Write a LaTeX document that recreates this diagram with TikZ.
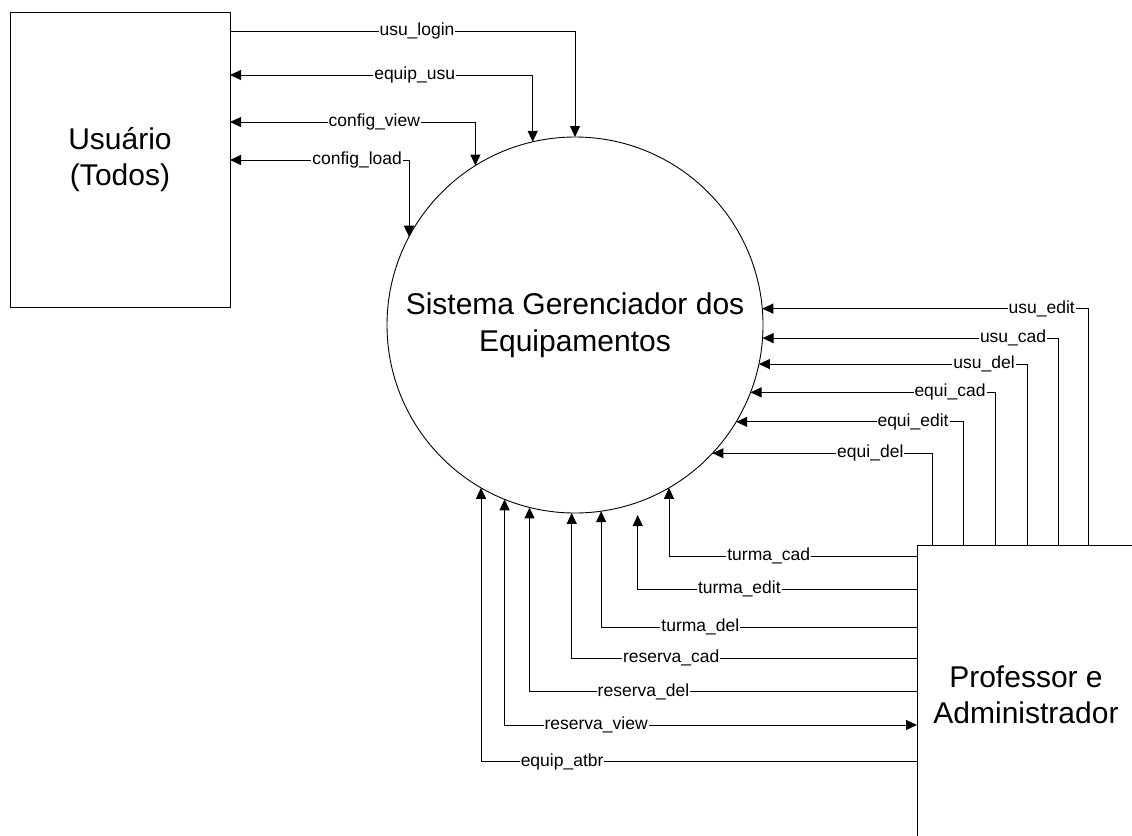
\documentclass[tikz,border=0pt]{standalone}
\usepackage{fontspec}
\setmainfont{Liberation Sans}
\usetikzlibrary{arrows.meta,calc}
\begin{document}
\begin{tikzpicture}[x=1pt,y=-1pt,
  box/.style={draw, line width=1pt, rectangle, inner sep=0pt, outer sep=0pt, align=center, font=\fontsize{30}{36}\selectfont},
  proc/.style={draw, line width=0.9pt, circle, minimum size=376pt, inner sep=0pt, outer sep=0pt, align=center, font=\fontsize{30}{37}\selectfont},
  flow/.style={line width=1pt, -{Triangle[length=11pt,width=10pt]}},
  flow2/.style={line width=1pt, {Triangle[length=11pt,width=10pt]}-{Triangle[length=11pt,width=10pt]}},
  lab/.style={fill=white, inner xsep=1pt, inner ysep=0pt, font=\fontsize{17.5}{20}\selectfont}
]
\useasboundingbox (0,0) rectangle (1132,835);
\clip (0,0) rectangle (1132,835);

\node[box, minimum width=220pt, minimum height=295pt] (u) at (120,159.5) {Usuário\\(Todos)};
\node[proc] (c) at (575,325) {Sistema Gerenciador dos\\Equipamentos};
\node[box, minimum width=218pt, minimum height=300pt] (p) at (1026,695) {Professor e\\Administrador};

% Usuario <-> sistema
\draw[flow] ($(u.north east)+(0,19)$) -| node[lab,pos=0.271]{usu\_login} (c.90);
\draw[flow2] ($(u.north east)+(0,63)$) -| node[lab,pos=0.305]{equip\_usu} (c.103.2);
\draw[flow2] ($(u.north east)+(0,110)$) -| node[lab,pos=0.294]{config\_view} (c.122.1);
\draw[flow2] ($(u.north east)+(0,148)$) -| node[lab,pos=0.355]{config\_load} (c.152.0);

% Professor -> sistema (right side)
\draw[flow] ($(p.north west)+(171,0)$) |- node[lab,pos=0.571]{usu\_edit} (c.5.5);
\draw[flow] ($(p.north west)+(141,0)$) |- node[lab,pos=0.576]{usu\_cad} (c.356.04);
\draw[flow] ($(p.north west)+(110,0)$) |- node[lab,pos=0.580]{usu\_del} (c.348.34);
\draw[flow] ($(p.north west)+(78,0)$) |- node[lab,pos=0.592]{equi\_cad} (c.339.12);
\draw[flow] ($(p.north west)+(46.5,0)$) |- node[lab,pos=0.611]{equi\_edit} (c.329.3);
\draw[flow] ($(p.north west)+(15.3,0)$) |- node[lab,pos=0.641]{equi\_del} (c.317.92);

% Professor -> sistema (bottom)
\coordinate (te) at (637.7,515);
\draw[flow] ($(p.north west)+(0,11)$) -| node[lab,pos=0.299]{turma\_cad} (c.300);
\draw[flow] ($(p.north west)+(0,44.3)$) -| node[lab,pos=0.318]{turma\_edit} (te);
\draw[flow] ($(p.north west)+(0,82.3)$) -| node[lab,pos=0.343]{turma\_del} (c.278.9);
\draw[flow] ($(p.north west)+(0,113)$) -| node[lab,pos=0.356]{reserva\_cad} (c.269.7);
\draw[flow] ($(p.north west)+(0,146.7)$) -| node[lab,pos=0.353]{reserva\_del} (c.256.8);
\draw[flow2] ($(p.north west)+(0,180)$) -| node[lab,pos=0.389]{reserva\_view} (c.248.8);
\draw[flow] ($(p.north west)+(0,216.7)$) -| node[lab,pos=0.407]{equip\_atbr} (c.240.35);
\end{tikzpicture}
\end{document}
